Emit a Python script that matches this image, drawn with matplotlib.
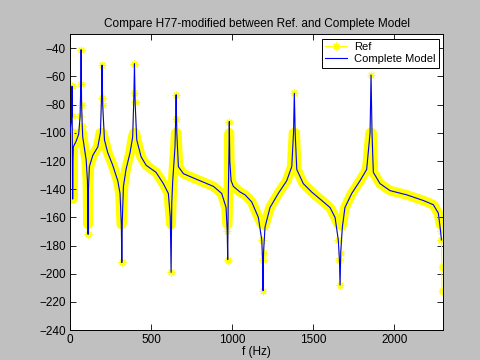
import matplotlib
matplotlib.use('Agg')
import matplotlib.pyplot as plt
from matplotlib.lines import Line2D
import numpy as np

# Datos (f en Hz, amplitud en dB)
f_ref = [0, 10, 12, 14, 16, 18, 20, 37, 53, 62, 66, 68, 71, 75, 78, 99, 107,
         109, 111, 113, 119, 140, 171, 187, 194, 197, 201, 212, 232, 263, 294,
         308, 316, 319, 322, 329, 345, 370, 386, 394, 397, 401, 411, 438, 469,
         493, 530, 575, 606, 618, 623, 627, 633, 647, 651, 654, 658, 668, 699,
         760, 822, 884, 935, 962, 969, 972, 975, 979, 982, 985, 993, 1007, 1048,
         1079, 1120, 1161, 1182, 1187, 1190, 1193, 1202, 1233, 1284, 1336, 1367,
         1378, 1383, 1388, 1398, 1438, 1490, 1552, 1603, 1634, 1654, 1661, 1665,
         1669, 1679, 1695, 1737, 1788, 1829, 1850, 1856, 1862, 1870, 1911, 1973,
         2076, 2178, 2240, 2271, 2285, 2290, 2292, 2293]
db_ref = [-100, -88, -67, -110, -147, -120, -110, -106, -101, -88, -65, -41,
          -80, -95, -103, -119, -134, -150, -172, -140, -124, -116, -110, -100,
          -75, -52, -80, -105, -114, -123, -134, -143, -165, -192, -162, -138,
          -126, -114, -103, -72, -51, -78, -105, -117, -123, -125, -128, -136,
          -143, -160, -199, -150, -134, -110, -90, -73, -100, -124, -129, -132,
          -135, -138, -143, -153, -170, -190, -150, -120, -92, -120, -134, -138,
          -142, -144, -149, -160, -176, -190, -212, -185, -167, -153, -143,
          -134, -124, -100, -72, -100, -126, -136, -142, -148, -153, -160, -176,
          -190, -208, -185, -167, -153, -143, -134, -126, -100, -59, -100, -128,
          -136, -141, -144, -148, -151, -157, -170, -176, -195, -212]

# el modelo completo coincide con Ref salvo el final (termina en -176 dB)
f_model = f_ref[:-2]
db_model = db_ref[:-2]

x_ticks = [0, 500, 1000, 1500, 2000]
y_ticks = list(range(-240, -39, 20))

plt.rcParams['font.family'] = ['Liberation Sans', 'DejaVu Sans']

fig = plt.figure(figsize=(4.8, 3.6), dpi=100, facecolor='#c0c0c0')
ax = fig.add_axes([0.146, 0.083, 0.777, 0.822])

star = (8, 2, 0)

# banda amarilla (muestreo denso del Ref), sin los extremos de picos y valles
ax.plot(f_ref, np.clip(db_ref, -165, -100), color='yellow', lw=7,
        solid_joinstyle='round', solid_capstyle='round', zorder=1)
ax.plot(f_ref, db_ref, color='yellow', lw=0.8, marker=star,
        markersize=5.5, markeredgewidth=0.8, zorder=2)
ax.plot(f_model, db_model, color='blue', lw=0.8, zorder=3)

ax.set_xlim(0, 2300)
ax.set_ylim(-240, -30)
ax.set_xticks(x_ticks)
ax.set_yticks(y_ticks)
ax.tick_params(direction='in', top=True, right=True, labelsize=8.5,
               length=4, width=0.6, pad=3)
for s in ax.spines.values():
    s.set_linewidth(0.7)

ax.set_title('Compare H77-modified between Ref. and Complete Model',
             fontsize=8.5, pad=5)
ax.set_xlabel('f (Hz)', fontsize=8.5, labelpad=0)

handles = [Line2D([], [], color='yellow', lw=0.8, marker=star, markersize=5.5,
                  markeredgewidth=0.8),
           Line2D([], [], color='blue', lw=0.8)]
leg = ax.legend(handles, ['Ref', 'Complete Model'], loc='upper right',
                fontsize=8, fancybox=False, framealpha=1, edgecolor='black',
                borderpad=0.3, handlelength=2.0, handletextpad=0.6,
                labelspacing=0.2, borderaxespad=0.4)
leg.get_frame().set_linewidth(0.7)

fig.savefig('out.png', dpi=100, facecolor=fig.get_facecolor())
